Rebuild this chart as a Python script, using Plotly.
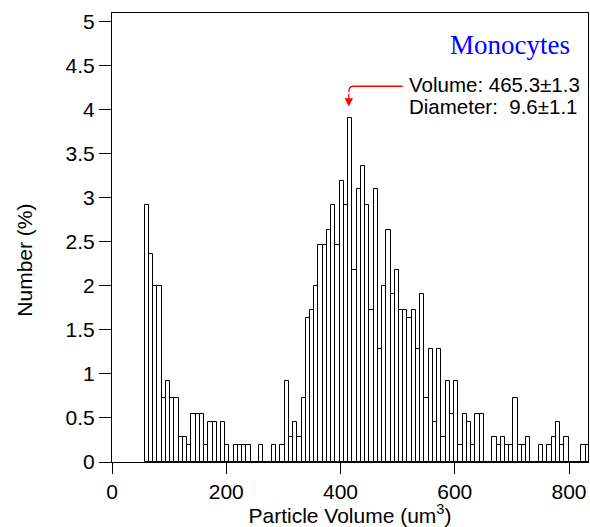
import plotly.graph_objects as go

# Histogram data (percent of particles per volume bin)
bin_first_center = 60.9   # um^3
bin_width = 7.42          # um^3
number_pct = [
    2.92, 2.36, 2.00, 2.00, 0.73, 0.92, 0.73, 0.73, 0.28, 0.28,
    0.19, 0.55, 0.55, 0.55, 0.19, 0.46, 0.46, 0.00, 0.46, 0.19,
    0.00, 0.19, 0.19, 0.19, 0.19, 0.00, 0.00, 0.19, 0.00, 0.00,
    0.19, 0.00, 0.19, 0.92, 0.28, 0.46, 0.28, 0.73, 1.64, 1.73,
    2.00, 2.46, 2.46, 2.64, 2.92, 2.46, 3.19, 2.92, 3.91, 2.18,
    3.10, 3.36, 2.92, 1.73, 3.10, 1.28, 2.00, 2.64, 1.91, 2.18,
    1.73, 1.73, 1.64, 1.73, 1.28, 1.91, 0.73, 1.28, 0.46, 1.28,
    0.28, 0.92, 0.55, 0.92, 0.19, 0.55, 0.46, 0.19, 0.55, 0.55,
    0.00, 0.00, 0.28, 0.19, 0.28, 0.19, 0.19, 0.73, 0.19, 0.19,
    0.28, 0.00, 0.00, 0.19, 0.00, 0.19, 0.28, 0.46, 0.19, 0.28,
    0.00, 0.00, 0.00, 0.19, 0.19,
]
x_ticks = [0, 200, 400, 600, 800]
y_ticks = [0, 0.5, 1, 1.5, 2, 2.5, 3, 3.5, 4, 4.5, 5]
title_text = "Monocytes"
volume_text = "Volume: 465.3±1.3"
diameter_text = "Diameter:\u00a0\u00a09.6±1.1"
x_title = "Particle Volume (um<sup>3</sup>)"
y_title = "Number (%)"

FONT = "Arial, 'Liberation Sans', sans-serif"
X_MAX = 833.2
Y_MAX = 5.1

fig = go.Figure()
fig.add_trace(go.Bar(
    x0=bin_first_center, dx=bin_width, y=number_pct,
    marker=dict(color="white", line=dict(color="black", width=1)),
    hoverinfo="skip", showlegend=False,
))

# arrow pointing at the highest bin
peak_i = max(range(len(number_pct)), key=lambda i: number_pct[i])
peak_x = bin_first_center + bin_width * peak_i
peak_y = number_pct[peak_i]
tip_x = peak_x - 2.5
tip_y = peak_y + 0.127
line_y = 4.268
line_x0 = 508.8
r_x, r_y = 8.5, 0.065

fig.add_shape(
    type="path", xref="x", yref="y",
    path=(f"M {line_x0},{line_y} L {tip_x + r_x},{line_y} "
          f"Q {tip_x},{line_y} {tip_x},{line_y - r_y}"),
    line=dict(color="red", width=1.3),
)
fig.add_annotation(
    x=tip_x, y=tip_y, ax=tip_x, ay=line_y - r_y, xref="x", yref="y",
    axref="x", ayref="y", text="", showarrow=True, arrowhead=2,
    arrowsize=1.3, arrowwidth=1.3, arrowcolor="red", standoff=0,
)

fig.add_annotation(
    x=805.9, y=(462.3 - 45) / 88, xref="x", yref="y", text=title_text,
    showarrow=False, xanchor="right", yanchor="middle",
    font=dict(family="'Times New Roman', 'Liberation Serif', serif", size=27, color="#0000FF"),
)
fig.add_annotation(
    x=516.4, y=(462.3 - 85) / 88, xref="x", yref="y", text=volume_text,
    showarrow=False, xanchor="left", yanchor="middle",
    font=dict(family=FONT, size=20.5, color="black"),
)
fig.add_annotation(
    x=516.4, y=(462.3 - 107.3) / 88, xref="x", yref="y", text=diameter_text,
    showarrow=False, xanchor="left", yanchor="middle",
    font=dict(family=FONT, size=20.5, color="black"),
)
# y-axis title (placed like the reference, slightly below the plot centre)
fig.add_annotation(
    x=(25 - 112) / 476, y=(462.3 - 261) / 449, xref="paper", yref="paper",
    text=y_title, textangle=-90, showarrow=False,
    xanchor="center", yanchor="middle",
    font=dict(family=FONT, size=21, color="black"),
)

fig.update_layout(
    width=590, height=527,
    margin=dict(l=112, r=2, t=13, b=65, autoexpand=False),
    paper_bgcolor="white", plot_bgcolor="white",
    bargap=0,
    font=dict(family=FONT, size=21, color="black"),
)
fig.update_xaxes(
    range=[0, X_MAX], tickvals=x_ticks, ticks="outside", ticklen=11,
    tickwidth=1, tickcolor="black", showline=True, linecolor="black",
    linewidth=1, mirror=True, showgrid=False, zeroline=False,
    tickfont=dict(size=21),
    title=dict(text=x_title, font=dict(size=21), standoff=4),
)
fig.update_yaxes(
    range=[0, Y_MAX], tickvals=y_ticks, ticks="outside", ticklen=12,
    tickwidth=1, tickcolor="black", showline=True, linecolor="black",
    linewidth=1, mirror=True, showgrid=False, zeroline=False,
    tickfont=dict(size=21),
)

fig.write_html("out.html", config={"displayModeBar": False},
               post_script="document.body.style.margin='0';")
